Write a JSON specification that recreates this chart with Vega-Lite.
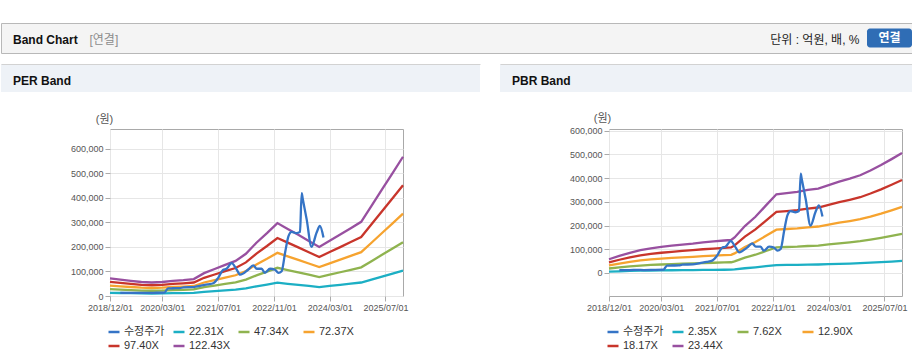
{
"$schema": "https://vega.github.io/schema/vega-lite/v6.json",
"padding": {"top": 22, "left": 0, "right": 0, "bottom": 0},
"background": "white",
"config": {
  "font": "Liberation Sans, Noto Sans CJK KR",
  "view": {"stroke": null},
  "axis": {"labelFontSize": 9, "labelColor": "#555555", "tickColor": "#aaaaaa", "tickSize": 5, "labelPadding": 2, "domain": false, "gridColor": "#e6e6e6", "titleFontSize": 11, "titleFontWeight": "normal", "titleColor": "#555555"}
},
"datasets": {
  "price": [
    {"d":"2019-03-01","v":12500},{"d":"2019-06-01","v":12500},{"d":"2019-08-01","v":13000},{"d":"2019-10-01","v":12500},
    {"d":"2019-12-15","v":13000},{"d":"2020-03-20","v":14000},{"d":"2020-04-20","v":31000},{"d":"2020-06-01","v":31500},
    {"d":"2020-08-01","v":32000},{"d":"2020-09-01","v":35000},{"d":"2020-12-01","v":36500},{"d":"2021-02-01","v":42000},
    {"d":"2021-04-01","v":47000},{"d":"2021-05-20","v":52000},{"d":"2021-07-01","v":73000},{"d":"2021-08-13","v":106000},
    {"d":"2021-09-13","v":111000},{"d":"2021-10-28","v":134000},{"d":"2021-12-10","v":108000},{"d":"2022-01-10","v":87000},
    {"d":"2022-03-22","v":108000},{"d":"2022-05-04","v":125000},{"d":"2022-06-04","v":111000},{"d":"2022-07-16","v":111000},
    {"d":"2022-08-13","v":94000},{"d":"2022-09-28","v":111000},{"d":"2022-11-10","v":107000},{"d":"2022-12-10","v":94000},
    {"d":"2023-01-07","v":101000},{"d":"2023-02-07","v":179000},{"d":"2023-03-07","v":243000},{"d":"2023-04-04","v":261000},
    {"d":"2023-05-16","v":256000},{"d":"2023-06-16","v":261000},{"d":"2023-07-01","v":419000},{"d":"2023-07-10","v":396000},
    {"d":"2023-08-13","v":313000},{"d":"2023-09-25","v":200000},{"d":"2023-11-07","v":257000},{"d":"2023-12-07","v":285000},
    {"d":"2024-01-07","v":238000}
  ],
  "per": [
    {"d":"2018-12-01","s":"122.43X","v":72000},{"d":"2018-12-01","s":"97.40X","v":57300},{"d":"2018-12-01","s":"72.37X","v":42600},{"d":"2018-12-01","s":"47.34X","v":27800},{"d":"2018-12-01","s":"22.31X","v":13100},
    {"d":"2019-03-01","s":"122.43X","v":67000},{"d":"2019-03-01","s":"97.40X","v":53300},{"d":"2019-03-01","s":"72.37X","v":39600},{"d":"2019-03-01","s":"47.34X","v":25900},{"d":"2019-03-01","s":"22.31X","v":12200},
    {"d":"2019-06-01","s":"122.43X","v":62000},{"d":"2019-06-01","s":"97.40X","v":49300},{"d":"2019-06-01","s":"72.37X","v":36600},{"d":"2019-06-01","s":"47.34X","v":24000},{"d":"2019-06-01","s":"22.31X","v":11300},
    {"d":"2019-09-01","s":"122.43X","v":57000},{"d":"2019-09-01","s":"97.40X","v":45300},{"d":"2019-09-01","s":"72.37X","v":33700},{"d":"2019-09-01","s":"47.34X","v":22000},{"d":"2019-09-01","s":"22.31X","v":10400},
    {"d":"2019-12-01","s":"122.43X","v":55000},{"d":"2019-12-01","s":"97.40X","v":43800},{"d":"2019-12-01","s":"72.37X","v":32500},{"d":"2019-12-01","s":"47.34X","v":21300},{"d":"2019-12-01","s":"22.31X","v":10000},
    {"d":"2020-03-01","s":"122.43X","v":57000},{"d":"2020-03-01","s":"97.40X","v":45300},{"d":"2020-03-01","s":"72.37X","v":33700},{"d":"2020-03-01","s":"47.34X","v":22000},{"d":"2020-03-01","s":"22.31X","v":10400},
    {"d":"2020-06-01","s":"122.43X","v":62000},{"d":"2020-06-01","s":"97.40X","v":49300},{"d":"2020-06-01","s":"72.37X","v":36600},{"d":"2020-06-01","s":"47.34X","v":24000},{"d":"2020-06-01","s":"22.31X","v":11300},
    {"d":"2020-09-01","s":"122.43X","v":65000},{"d":"2020-09-01","s":"97.40X","v":51700},{"d":"2020-09-01","s":"72.37X","v":38400},{"d":"2020-09-01","s":"47.34X","v":25100},{"d":"2020-09-01","s":"22.31X","v":11800},
    {"d":"2020-12-01","s":"122.43X","v":69000},{"d":"2020-12-01","s":"97.40X","v":54900},{"d":"2020-12-01","s":"72.37X","v":40800},{"d":"2020-12-01","s":"47.34X","v":26700},{"d":"2020-12-01","s":"22.31X","v":12600},
    {"d":"2021-03-01","s":"122.43X","v":93000},{"d":"2021-03-01","s":"97.40X","v":74000},{"d":"2021-03-01","s":"72.37X","v":55000},{"d":"2021-03-01","s":"47.34X","v":36000},{"d":"2021-03-01","s":"22.31X","v":16900},
    {"d":"2021-06-01","s":"122.43X","v":110000},{"d":"2021-06-01","s":"97.40X","v":87500},{"d":"2021-06-01","s":"72.37X","v":65000},{"d":"2021-06-01","s":"47.34X","v":42500},{"d":"2021-06-01","s":"22.31X","v":20000},
    {"d":"2021-09-01","s":"122.43X","v":127000},{"d":"2021-09-01","s":"97.40X","v":101000},{"d":"2021-09-01","s":"72.37X","v":75100},{"d":"2021-09-01","s":"47.34X","v":49100},{"d":"2021-09-01","s":"22.31X","v":23100},
    {"d":"2021-12-01","s":"122.43X","v":143000},{"d":"2021-12-01","s":"97.40X","v":113800},{"d":"2021-12-01","s":"72.37X","v":84500},{"d":"2021-12-01","s":"47.34X","v":55300},{"d":"2021-12-01","s":"22.31X","v":26100},
    {"d":"2022-03-01","s":"122.43X","v":172000},{"d":"2022-03-01","s":"97.40X","v":136800},{"d":"2022-03-01","s":"72.37X","v":101700},{"d":"2022-03-01","s":"47.34X","v":66500},{"d":"2022-03-01","s":"22.31X","v":31300},
    {"d":"2022-06-01","s":"122.43X","v":217000},{"d":"2022-06-01","s":"97.40X","v":172600},{"d":"2022-06-01","s":"72.37X","v":128300},{"d":"2022-06-01","s":"47.34X","v":83900},{"d":"2022-06-01","s":"22.31X","v":39500},
    {"d":"2022-09-01","s":"122.43X","v":256000},{"d":"2022-09-01","s":"97.40X","v":203700},{"d":"2022-09-01","s":"72.37X","v":151300},{"d":"2022-09-01","s":"47.34X","v":99000},{"d":"2022-09-01","s":"22.31X","v":46700},
    {"d":"2022-12-01","s":"122.43X","v":297000},{"d":"2022-12-01","s":"97.40X","v":236300},{"d":"2022-12-01","s":"72.37X","v":175600},{"d":"2022-12-01","s":"47.34X","v":114800},{"d":"2022-12-01","s":"22.31X","v":54100},
    {"d":"2023-03-01","s":"122.43X","v":273000},{"d":"2023-03-01","s":"97.40X","v":217200},{"d":"2023-03-01","s":"72.37X","v":161400},{"d":"2023-03-01","s":"47.34X","v":105600},{"d":"2023-03-01","s":"22.31X","v":49700},
    {"d":"2023-06-01","s":"122.43X","v":249000},{"d":"2023-06-01","s":"97.40X","v":198100},{"d":"2023-06-01","s":"72.37X","v":147200},{"d":"2023-06-01","s":"47.34X","v":96300},{"d":"2023-06-01","s":"22.31X","v":45400},
    {"d":"2023-09-01","s":"122.43X","v":224000},{"d":"2023-09-01","s":"97.40X","v":178200},{"d":"2023-09-01","s":"72.37X","v":132400},{"d":"2023-09-01","s":"47.34X","v":86600},{"d":"2023-09-01","s":"22.31X","v":40800},
    {"d":"2023-12-01","s":"122.43X","v":200000},{"d":"2023-12-01","s":"97.40X","v":159100},{"d":"2023-12-01","s":"72.37X","v":118200},{"d":"2023-12-01","s":"47.34X","v":77300},{"d":"2023-12-01","s":"22.31X","v":36400},
    {"d":"2024-03-01","s":"122.43X","v":225000},{"d":"2024-03-01","s":"97.40X","v":179000},{"d":"2024-03-01","s":"72.37X","v":133000},{"d":"2024-03-01","s":"47.34X","v":87000},{"d":"2024-03-01","s":"22.31X","v":41000},
    {"d":"2024-06-01","s":"122.43X","v":250000},{"d":"2024-06-01","s":"97.40X","v":198900},{"d":"2024-06-01","s":"72.37X","v":147800},{"d":"2024-06-01","s":"47.34X","v":96700},{"d":"2024-06-01","s":"22.31X","v":45600},
    {"d":"2024-09-01","s":"122.43X","v":276000},{"d":"2024-09-01","s":"97.40X","v":219600},{"d":"2024-09-01","s":"72.37X","v":163100},{"d":"2024-09-01","s":"47.34X","v":106700},{"d":"2024-09-01","s":"22.31X","v":50300},
    {"d":"2024-12-01","s":"122.43X","v":302000},{"d":"2024-12-01","s":"97.40X","v":240300},{"d":"2024-12-01","s":"72.37X","v":178500},{"d":"2024-12-01","s":"47.34X","v":116800},{"d":"2024-12-01","s":"22.31X","v":55000},
    {"d":"2025-03-01","s":"122.43X","v":367000},{"d":"2025-03-01","s":"97.40X","v":292000},{"d":"2025-03-01","s":"72.37X","v":216900},{"d":"2025-03-01","s":"47.34X","v":141900},{"d":"2025-03-01","s":"22.31X","v":66900},
    {"d":"2025-06-01","s":"122.43X","v":434000},{"d":"2025-06-01","s":"97.40X","v":345300},{"d":"2025-06-01","s":"72.37X","v":256500},{"d":"2025-06-01","s":"47.34X","v":167800},{"d":"2025-06-01","s":"22.31X","v":79100},
    {"d":"2025-09-01","s":"122.43X","v":500000},{"d":"2025-09-01","s":"97.40X","v":397800},{"d":"2025-09-01","s":"72.37X","v":295600},{"d":"2025-09-01","s":"47.34X","v":193300},{"d":"2025-09-01","s":"22.31X","v":91100},
    {"d":"2025-12-01","s":"122.43X","v":567000},{"d":"2025-12-01","s":"97.40X","v":451100},{"d":"2025-12-01","s":"72.37X","v":335200},{"d":"2025-12-01","s":"47.34X","v":219200},{"d":"2025-12-01","s":"22.31X","v":103300}
  ],
  "pbr": [
    {"d":"2018-12-01","s":"23.44X","v":58000},{"d":"2018-12-01","s":"18.17X","v":45000},{"d":"2018-12-01","s":"12.90X","v":31900},{"d":"2018-12-01","s":"7.62X","v":18900},{"d":"2018-12-01","s":"2.35X","v":5800},
    {"d":"2019-03-01","s":"23.44X","v":72000},{"d":"2019-03-01","s":"18.17X","v":55800},{"d":"2019-03-01","s":"12.90X","v":39600},{"d":"2019-03-01","s":"7.62X","v":23400},{"d":"2019-03-01","s":"2.35X","v":7200},
    {"d":"2019-06-01","s":"23.44X","v":85000},{"d":"2019-06-01","s":"18.17X","v":65900},{"d":"2019-06-01","s":"12.90X","v":46800},{"d":"2019-06-01","s":"7.62X","v":27600},{"d":"2019-06-01","s":"2.35X","v":8500},
    {"d":"2019-09-01","s":"23.44X","v":96000},{"d":"2019-09-01","s":"18.17X","v":74400},{"d":"2019-09-01","s":"12.90X","v":52800},{"d":"2019-09-01","s":"7.62X","v":31200},{"d":"2019-09-01","s":"2.35X","v":9600},
    {"d":"2019-12-01","s":"23.44X","v":104000},{"d":"2019-12-01","s":"18.17X","v":80600},{"d":"2019-12-01","s":"12.90X","v":57200},{"d":"2019-12-01","s":"7.62X","v":33800},{"d":"2019-12-01","s":"2.35X","v":10400},
    {"d":"2020-03-01","s":"23.44X","v":110000},{"d":"2020-03-01","s":"18.17X","v":85300},{"d":"2020-03-01","s":"12.90X","v":60500},{"d":"2020-03-01","s":"7.62X","v":35800},{"d":"2020-03-01","s":"2.35X","v":11000},
    {"d":"2020-06-01","s":"23.44X","v":115000},{"d":"2020-06-01","s":"18.17X","v":89100},{"d":"2020-06-01","s":"12.90X","v":63300},{"d":"2020-06-01","s":"7.62X","v":37400},{"d":"2020-06-01","s":"2.35X","v":11500},
    {"d":"2020-09-01","s":"23.44X","v":120000},{"d":"2020-09-01","s":"18.17X","v":93000},{"d":"2020-09-01","s":"12.90X","v":66000},{"d":"2020-09-01","s":"7.62X","v":39000},{"d":"2020-09-01","s":"2.35X","v":12000},
    {"d":"2020-12-01","s":"23.44X","v":124000},{"d":"2020-12-01","s":"18.17X","v":96100},{"d":"2020-12-01","s":"12.90X","v":68200},{"d":"2020-12-01","s":"7.62X","v":40300},{"d":"2020-12-01","s":"2.35X","v":12400},
    {"d":"2021-03-01","s":"23.44X","v":129000},{"d":"2021-03-01","s":"18.17X","v":100000},{"d":"2021-03-01","s":"12.90X","v":71000},{"d":"2021-03-01","s":"7.62X","v":41900},{"d":"2021-03-01","s":"2.35X","v":12900},
    {"d":"2021-06-01","s":"23.44X","v":133000},{"d":"2021-06-01","s":"18.17X","v":103100},{"d":"2021-06-01","s":"12.90X","v":73200},{"d":"2021-06-01","s":"7.62X","v":43200},{"d":"2021-06-01","s":"2.35X","v":13300},
    {"d":"2021-09-01","s":"23.44X","v":137000},{"d":"2021-09-01","s":"18.17X","v":106200},{"d":"2021-09-01","s":"12.90X","v":75400},{"d":"2021-09-01","s":"7.62X","v":44500},{"d":"2021-09-01","s":"2.35X","v":13700},
    {"d":"2021-11-01","s":"23.44X","v":139000},{"d":"2021-11-01","s":"18.17X","v":107700},{"d":"2021-11-01","s":"12.90X","v":76500},{"d":"2021-11-01","s":"7.62X","v":45200},{"d":"2021-11-01","s":"2.35X","v":13900},
    {"d":"2021-12-01","s":"23.44X","v":150000},{"d":"2021-12-01","s":"18.17X","v":116300},{"d":"2021-12-01","s":"12.90X","v":82600},{"d":"2021-12-01","s":"7.62X","v":48800},{"d":"2021-12-01","s":"2.35X","v":15000},
    {"d":"2022-03-01","s":"23.44X","v":198000},{"d":"2022-03-01","s":"18.17X","v":153500},{"d":"2022-03-01","s":"12.90X","v":109000},{"d":"2022-03-01","s":"7.62X","v":64400},{"d":"2022-03-01","s":"2.35X","v":19900},
    {"d":"2022-06-01","s":"23.44X","v":237000},{"d":"2022-06-01","s":"18.17X","v":183700},{"d":"2022-06-01","s":"12.90X","v":130400},{"d":"2022-06-01","s":"7.62X","v":77000},{"d":"2022-06-01","s":"2.35X","v":23800},
    {"d":"2022-09-01","s":"23.44X","v":285000},{"d":"2022-09-01","s":"18.17X","v":220900},{"d":"2022-09-01","s":"12.90X","v":156800},{"d":"2022-09-01","s":"7.62X","v":92600},{"d":"2022-09-01","s":"2.35X","v":28600},
    {"d":"2022-12-01","s":"23.44X","v":332000},{"d":"2022-12-01","s":"18.17X","v":257400},{"d":"2022-12-01","s":"12.90X","v":182700},{"d":"2022-12-01","s":"7.62X","v":107900},{"d":"2022-12-01","s":"2.35X","v":33300},
    {"d":"2023-03-01","s":"23.44X","v":337000},{"d":"2023-03-01","s":"18.17X","v":261200},{"d":"2023-03-01","s":"12.90X","v":185500},{"d":"2023-03-01","s":"7.62X","v":109600},{"d":"2023-03-01","s":"2.35X","v":33800},
    {"d":"2023-06-01","s":"23.44X","v":342000},{"d":"2023-06-01","s":"18.17X","v":265100},{"d":"2023-06-01","s":"12.90X","v":188200},{"d":"2023-06-01","s":"7.62X","v":111200},{"d":"2023-06-01","s":"2.35X","v":34300},
    {"d":"2023-09-01","s":"23.44X","v":350000},{"d":"2023-09-01","s":"18.17X","v":271300},{"d":"2023-09-01","s":"12.90X","v":192600},{"d":"2023-09-01","s":"7.62X","v":113800},{"d":"2023-09-01","s":"2.35X","v":35100},
    {"d":"2023-12-01","s":"23.44X","v":356000},{"d":"2023-12-01","s":"18.17X","v":276000},{"d":"2023-12-01","s":"12.90X","v":195900},{"d":"2023-12-01","s":"7.62X","v":115700},{"d":"2023-12-01","s":"2.35X","v":35700},
    {"d":"2024-03-01","s":"23.44X","v":370000},{"d":"2024-03-01","s":"18.17X","v":286800},{"d":"2024-03-01","s":"12.90X","v":203600},{"d":"2024-03-01","s":"7.62X","v":120300},{"d":"2024-03-01","s":"2.35X","v":37100},
    {"d":"2024-06-01","s":"23.44X","v":385000},{"d":"2024-06-01","s":"18.17X","v":298400},{"d":"2024-06-01","s":"12.90X","v":211900},{"d":"2024-06-01","s":"7.62X","v":125200},{"d":"2024-06-01","s":"2.35X","v":38600},
    {"d":"2024-09-01","s":"23.44X","v":398000},{"d":"2024-09-01","s":"18.17X","v":308500},{"d":"2024-09-01","s":"12.90X","v":219000},{"d":"2024-09-01","s":"7.62X","v":129400},{"d":"2024-09-01","s":"2.35X","v":39900},
    {"d":"2024-12-01","s":"23.44X","v":412000},{"d":"2024-12-01","s":"18.17X","v":319400},{"d":"2024-12-01","s":"12.90X","v":226700},{"d":"2024-12-01","s":"7.62X","v":133900},{"d":"2024-12-01","s":"2.35X","v":41300},
    {"d":"2025-03-01","s":"23.44X","v":432000},{"d":"2025-03-01","s":"18.17X","v":334900},{"d":"2025-03-01","s":"12.90X","v":237700},{"d":"2025-03-01","s":"7.62X","v":140400},{"d":"2025-03-01","s":"2.35X","v":43300},
    {"d":"2025-06-01","s":"23.44X","v":455000},{"d":"2025-06-01","s":"18.17X","v":352700},{"d":"2025-06-01","s":"12.90X","v":250400},{"d":"2025-06-01","s":"7.62X","v":147900},{"d":"2025-06-01","s":"2.35X","v":45600},
    {"d":"2025-09-01","s":"23.44X","v":480000},{"d":"2025-09-01","s":"18.17X","v":372100},{"d":"2025-09-01","s":"12.90X","v":264200},{"d":"2025-09-01","s":"7.62X","v":156000},{"d":"2025-09-01","s":"2.35X","v":48100},
    {"d":"2025-12-01","s":"23.44X","v":506000},{"d":"2025-12-01","s":"18.17X","v":392200},{"d":"2025-12-01","s":"12.90X","v":278500},{"d":"2025-12-01","s":"7.62X","v":164500},{"d":"2025-12-01","s":"2.35X","v":50700}
  ]
},
"spacing": 10,
"vconcat": [
  {
    "width": 911, "height": 30,
    "data": {"values": [{"b": "연결"}]},
    "view": {"fill": "#f4f4f4", "stroke": "#b8b8b8"},
    "layer": [
      {
        "mark": {"type": "rect", "fill": "#2f6db5", "cornerRadius": 3},
        "encoding": {
          "x": {"field": "b", "type": "nominal", "scale": {"paddingInner": 0, "paddingOuter": 0, "range": [866, 911]},
                "axis": {"orient": "top", "labels": false, "ticks": false, "grid": false, "domain": false, "title": "Band Chart", "titleX": 11.5, "titleY": 16, "titleAlign": "left", "titleBaseline": "middle", "titleFontSize": 12, "titleFontWeight": "bold", "titleColor": "#111111", "zindex": 1}},
          "y": {"field": "b", "type": "nominal", "scale": {"paddingInner": 0, "paddingOuter": 0.29},
                "axis": {"orient": "left", "labels": false, "ticks": false, "grid": false, "domain": false, "title": "단위 : 억원, 배, %", "titleAngle": 0, "titleX": 858, "titleY": 16, "titleAlign": "right", "titleBaseline": "middle", "titleFontSize": 12, "titleFontWeight": "normal", "titleColor": "#222222", "zindex": 1}}
        }
      },
      {
        "mark": {"type": "text", "color": "white", "fontWeight": "bold", "fontSize": 12},
        "encoding": {
          "x": {"field": "b", "type": "nominal",
                "axis": {"orient": "bottom", "labels": false, "ticks": false, "grid": false, "domain": false, "title": "[연결]", "titleX": 88, "titleY": -14, "titleAlign": "left", "titleBaseline": "middle", "titleFontSize": 12, "titleFontWeight": "normal", "titleColor": "#8c8c8c", "zindex": 1}},
          "text": {"field": "b"}
        }
      }
    ]
  },
  {
    "spacing": 19,
    "vconcat": [
      {
        "spacing": 20, "bounds": "flush",
        "hconcat": [
          {
            "width": 479, "height": 28,
            "data": {"values": [{"p": "PER Band"}]},
            "mark": {"type": "rect", "fill": "#eef2f7"},
            "encoding": {
              "x": {"field": "p", "type": "nominal", "scale": {"paddingInner": 0, "paddingOuter": 0},
                    "axis": {"orient": "top", "labels": false, "ticks": false, "grid": false, "domain": true, "domainColor": "#d2d2d2", "title": "PER Band", "titleX": 11.5, "titleY": 16, "titleAlign": "left", "titleBaseline": "middle", "titleFontSize": 12, "titleFontWeight": "bold", "titleColor": "#111111", "zindex": 1}},
              "y": {"field": "p", "type": "nominal", "scale": {"paddingInner": 0, "paddingOuter": 0}, "axis": null}
            }
          },
          {
            "width": 412, "height": 28,
            "data": {"values": [{"p": "PBR Band"}]},
            "mark": {"type": "rect", "fill": "#eef2f7"},
            "encoding": {
              "x": {"field": "p", "type": "nominal", "scale": {"paddingInner": 0, "paddingOuter": 0},
                    "axis": {"orient": "top", "labels": false, "ticks": false, "grid": false, "domain": true, "domainColor": "#d2d2d2", "title": "PBR Band", "titleX": 11.5, "titleY": 16, "titleAlign": "left", "titleBaseline": "middle", "titleFontSize": 12, "titleFontWeight": "bold", "titleColor": "#111111", "zindex": 1}},
              "y": {"field": "p", "type": "nominal", "scale": {"paddingInner": 0, "paddingOuter": 0}, "axis": null}
            }
          }
        ]
      },
      {
        "spacing": 0, "bounds": "flush",
        "resolve": {"scale": {"color": "independent"}, "legend": {"color": "independent"}},
        "hconcat": [
          {"width": 109, "height": 167, "data": {"values": []}, "mark": "point"},
          {
            "width": 293, "height": 167,
            "view": {"stroke": "#a9a9a9", "fill": "#ffffff"},
            "layer": [
              {
                "data": {"name": "per"},
                "mark": {"type": "line", "strokeWidth": 2.3},
                "encoding": {
                  "x": {"field": "d", "type": "temporal",
                        "scale": {"type": "utc", "domain": [{"year": 2018, "month": 12, "date": 1, "utc": true}, {"year": 2025, "month": 12, "date": 1, "utc": true}]},
                        "axis": {"values": [{"year": 2018, "month": 12, "date": 1, "utc": true}, {"year": 2020, "month": 3, "date": 1, "utc": true}, {"year": 2021, "month": 7, "date": 1, "utc": true}, {"year": 2022, "month": 11, "date": 1, "utc": true}, {"year": 2024, "month": 3, "date": 1, "utc": true}, {"year": 2025, "month": 7, "date": 1, "utc": true}],
                                 "tickCount": 20, "format": "%Y/%m/%d", "labelFlush": false, "labelOverlap": false, "labelBound": false, "title": null, "grid": true}},
                  "y": {"field": "v", "type": "quantitative", "scale": {"domain": [0, 680000], "nice": false, "zero": false},
                        "axis": {"values": [0, 100000, 200000, 300000, 400000, 500000, 600000], "tickCount": 20, "labelOverlap": false, "format": ",d", "title": "(원)", "titleAngle": 0, "titleX": -6, "titleY": -10, "titleAlign": "center", "titleBaseline": "middle", "grid": true}},
                  "color": {"field": "s", "type": "nominal",
                            "scale": {"domain": ["수정주가", "22.31X", "47.34X", "72.37X", "97.40X", "122.43X"], "range": ["#3574c6", "#1cafc4", "#8fb34f", "#f6a32f", "#c8352b", "#9850a0"]},
                            "legend": {"orient": "none", "legendX": -3, "legendY": 196, "direction": "horizontal", "columns": 4, "gridAlign": "all", "symbolType": "stroke", "symbolSize": 121, "symbolStrokeWidth": 2.5, "labelFontSize": 11, "labelColor": "#333333", "labelOffset": 3, "columnPadding": 3, "rowPadding": 2, "title": null, "padding": 0, "labelLimit": 200}}
                }
              },
              {
                "data": {"name": "price"},
                "mark": {"type": "line", "strokeWidth": 2.3, "interpolate": "monotone"},
                "encoding": {
                  "x": {"field": "d", "type": "temporal"},
                  "y": {"field": "v", "type": "quantitative"},
                  "color": {"datum": "수정주가"}
                }
              }
            ]
          },
          {"width": 206, "height": 167, "data": {"values": []}, "mark": "point"},
          {
            "width": 293, "height": 167,
            "view": {"stroke": "#a9a9a9", "fill": "#ffffff"},
            "layer": [
              {
                "data": {"name": "pbr"},
                "mark": {"type": "line", "strokeWidth": 2.3},
                "encoding": {
                  "x": {"field": "d", "type": "temporal",
                        "scale": {"type": "utc", "domain": [{"year": 2018, "month": 12, "date": 1, "utc": true}, {"year": 2025, "month": 12, "date": 1, "utc": true}]},
                        "axis": {"values": [{"year": 2018, "month": 12, "date": 1, "utc": true}, {"year": 2020, "month": 3, "date": 1, "utc": true}, {"year": 2021, "month": 7, "date": 1, "utc": true}, {"year": 2022, "month": 11, "date": 1, "utc": true}, {"year": 2024, "month": 3, "date": 1, "utc": true}, {"year": 2025, "month": 7, "date": 1, "utc": true}],
                                 "tickCount": 20, "format": "%Y/%m/%d", "labelFlush": false, "labelOverlap": false, "labelBound": false, "title": null, "grid": true}},
                  "y": {"field": "v", "type": "quantitative", "scale": {"domain": [-97000, 607000], "nice": false, "zero": false},
                        "axis": {"values": [0, 100000, 200000, 300000, 400000, 500000, 600000], "tickCount": 20, "labelOverlap": false, "format": ",d", "title": "(원)", "titleAngle": 0, "titleX": -7, "titleY": -11, "titleAlign": "center", "titleBaseline": "middle", "grid": true}},
                  "color": {"field": "s", "type": "nominal",
                            "scale": {"domain": ["수정주가", "2.35X", "7.62X", "12.90X", "18.17X", "23.44X"], "range": ["#3574c6", "#1cafc4", "#8fb34f", "#f6a32f", "#c8352b", "#9850a0"]},
                            "legend": {"orient": "none", "legendX": -3, "legendY": 196, "direction": "horizontal", "columns": 4, "gridAlign": "all", "symbolType": "stroke", "symbolSize": 121, "symbolStrokeWidth": 2.5, "labelFontSize": 11, "labelColor": "#333333", "labelOffset": 3, "columnPadding": 3, "rowPadding": 2, "title": null, "padding": 0, "labelLimit": 200}}
                }
              },
              {
                "data": {"name": "price"},
                "mark": {"type": "line", "strokeWidth": 2.3, "interpolate": "monotone"},
                "encoding": {
                  "x": {"field": "d", "type": "temporal"},
                  "y": {"field": "v", "type": "quantitative"},
                  "color": {"datum": "수정주가"}
                }
              }
            ]
          }
        ]
      }
    ]
  }
]
}
